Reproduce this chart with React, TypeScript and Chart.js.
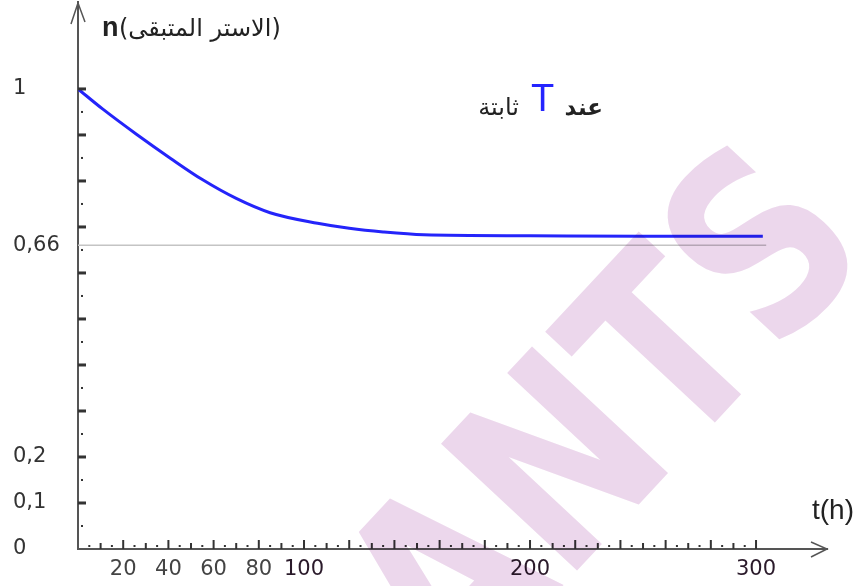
import { useEffect, useRef } from "react";
import { Chart, registerables } from "chart.js";

Chart.register(...registerables);

// ---- data ----
const timeHours = [0, 11, 26, 41, 55, 70, 85, 106, 120, 135, 153, 200, 250, 303];
const remainingEster = [1, 0.956, 0.901, 0.849, 0.803, 0.762, 0.731, 0.708, 0.697, 0.689, 0.683, 0.681, 0.68, 0.68];
const equilibriumT = [0, 304.5];
const equilibriumN = [0.66, 0.66];

const xTickValues = [20, 40, 60, 80, 100, 200, 300];
const yTickValues = [0, 0.1, 0.2, 0.66, 1];
const yTickLabels = ["0", "0,1", "0,2", "0,66", "1"];
const yMajorMarks = [0.1, 0.2, 0.3, 0.4, 0.5, 0.6, 0.7, 0.8, 0.9, 1.0];
const yMinorMarks = [0.05, 0.15, 0.25, 0.35, 0.45, 0.55, 0.65, 0.75, 0.85, 0.95];

const yAxisTitleLatin = "n";
const yAxisTitleArabic = "(الاستر المتبقى)";
const xAxisTitle = "t(h)";
const noteRight = "عند";
const noteSymbol = "T";
const noteLeft = "ثابتة";
const watermarkText = "ANTS";

const decorPlugin = {
  id: "decor",
  afterDraw(chart: any) {
    const ctx: CanvasRenderingContext2D = chart.ctx;
    const { left, right, top, bottom } = chart.chartArea;
    const xs = chart.scales.x;
    const ys = chart.scales.y;

    ctx.save();
    // axis tick marks drawn inside the plot, as in the reference
    ctx.fillStyle = "#333";
    for (const v of yMajorMarks) {
      const y = ys.getPixelForValue(v);
      ctx.fillRect(left, y - 1.5, 8, 3);
    }
    for (const v of yMinorMarks) {
      const y = ys.getPixelForValue(v);
      ctx.fillRect(left + 3, y - 1, 2, 2);
    }
    for (let v = 5; v <= 300; v += 5) {
      const x = xs.getPixelForValue(v);
      if (v % 20 === 0) ctx.fillRect(x - 1, bottom - 9, 2, 9);
      else if (v % 10 === 0) ctx.fillRect(x - 1, bottom - 6, 2, 6);
      else ctx.fillRect(x - 1, bottom - 4, 2, 2);
    }

    // arrow heads
    ctx.strokeStyle = "#555";
    ctx.lineWidth = 1.5;
    ctx.beginPath();
    ctx.moveTo(left - 7, top + 22);
    ctx.lineTo(left, top + 1);
    ctx.lineTo(left + 7, top + 20);
    ctx.moveTo(right - 16, bottom - 7);
    ctx.lineTo(right, bottom);
    ctx.lineTo(right - 16, bottom + 8);
    ctx.stroke();

    // texts
    ctx.direction = "ltr";
    ctx.textBaseline = "alphabetic";
    ctx.fillStyle = "#222";
    ctx.textAlign = "left";
    ctx.font = 'bold 27px "Liberation Sans", Arial, sans-serif';
    ctx.fillText(yAxisTitleLatin, left + 24, 36);
    ctx.font = '24px "DejaVu Sans", sans-serif';
    ctx.fillText(yAxisTitleArabic, left + 41, 36);

    ctx.font = '28px "Liberation Sans", Arial, sans-serif';
    ctx.fillText(xAxisTitle, 812, 519);

    ctx.font = 'bold 23px "DejaVu Sans", sans-serif';
    ctx.textAlign = "right";
    ctx.fillText(noteRight, 603, 115);
    ctx.font = '24px "DejaVu Sans", sans-serif';
    ctx.fillText(noteLeft, 519, 115);
    ctx.textAlign = "left";
    ctx.fillStyle = "#2424ff";
    ctx.font = '38px "Liberation Sans", Arial, sans-serif';
    ctx.fillText(noteSymbol, 531, 111);

    // translucent watermark over everything
    ctx.globalCompositeOperation = "multiply";
    ctx.fillStyle = "rgb(236,215,236)";
    ctx.translate(660, 345);
    ctx.rotate((-47 * Math.PI) / 180);
    ctx.scale(0.8, 1);
    ctx.font = 'bold 255px "DejaVu Sans", sans-serif';
    ctx.textAlign = "left";
    const wA = ctx.measureText("A").width;
    const wN = ctx.measureText("N").width;
    const wT = ctx.measureText("T").width;
    ctx.fillText(watermarkText, -(wA + wN + wT / 2), 93);
    ctx.restore();
  },
};

export default function App() {
  const canvasRef = useRef<HTMLCanvasElement | null>(null);

  useEffect(() => {
    document.body.style.margin = "0";
    const canvas = canvasRef.current;
    if (!canvas) return;
    const chart = new Chart(canvas, {
      type: "line",
      data: {
        datasets: [
          {
            data: timeHours.map((t, i) => ({ x: t, y: remainingEster[i] })),
            borderColor: "rgb(36,36,250)",
            borderWidth: 3,
            pointRadius: 0,
            cubicInterpolationMode: "monotone",
            fill: false,
          },
          {
            data: equilibriumT.map((t, i) => ({ x: t, y: equilibriumN[i] })),
            borderColor: "#c4c4c4",
            borderWidth: 1.5,
            pointRadius: 0,
            fill: false,
          },
        ],
      },
      options: {
        animation: false,
        responsive: false,
        events: [],
        layout: { padding: { left: 13, top: 2, right: 36, bottom: 0 } },
        plugins: { legend: { display: false }, tooltip: { enabled: false } },
        scales: {
          x: {
            type: "linear",
            min: 0,
            max: 331.4,
            grid: { display: false, drawTicks: false },
            border: { color: "#555", width: 2 },
            afterBuildTicks: (s: any) => {
              s.ticks = xTickValues.map((v) => ({ value: v }));
            },
            afterFit: (s: any) => {
              s.height = 37;
            },
            ticks: {
              autoSkip: false,
              maxRotation: 0,
              padding: 8,
              color: (c: any) => (c.tick && c.tick.value >= 100 ? "#2a1a2a" : "#444"),
              font: { family: '"DejaVu Sans", sans-serif', size: 21 },
              callback: (v: any) => String(v),
            },
          },
          y: {
            type: "linear",
            min: 0,
            max: 1.189,
            grid: { display: false, drawTicks: false },
            border: { color: "#555", width: 2 },
            afterBuildTicks: (s: any) => {
              s.ticks = yTickValues.map((v) => ({ value: v }));
            },
            afterFit: (s: any) => {
              s.width = 65;
              s.paddingTop = 0;
              s.paddingBottom = 0;
            },
            ticks: {
              autoSkip: false,
              crossAlign: "far",
              color: "#333",
              font: { family: '"DejaVu Sans", sans-serif', size: 21 },
              callback: (v: any) => {
                const i = yTickValues.indexOf(Number(v));
                return i >= 0 ? yTickLabels[i] : "";
              },
            },
          },
        },
      },
      plugins: [decorPlugin],
    } as any);
    return () => chart.destroy();
  }, []);

  return (
    <div style={{ width: 863, height: 586, background: "#fff" }}>
      <canvas ref={canvasRef} width={863} height={586} style={{ display: "block" }} />
    </div>
  );
}
